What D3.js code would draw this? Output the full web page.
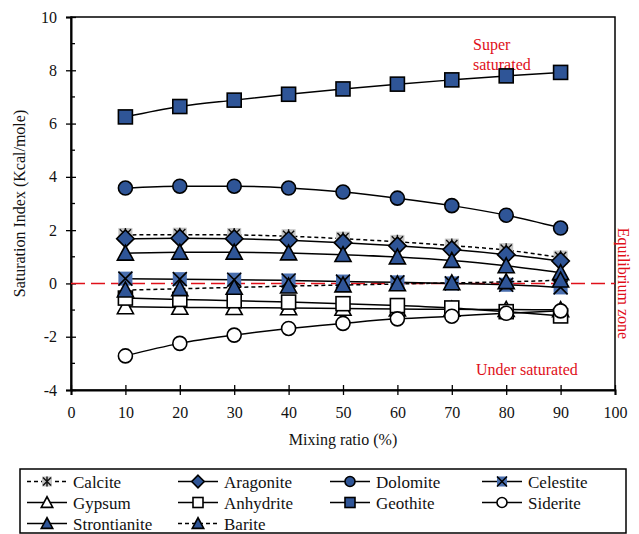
<!DOCTYPE html>
<html>
<head>
<meta charset="utf-8">
<script src="https://cdn.jsdelivr.net/npm/d3@7"></script>
<style>
  html, body { margin: 0; padding: 0; background: #fff; }
  svg, svg text { font-family: "Liberation Serif", "DejaVu Serif", "Times New Roman", serif !important; }
</style>
</head>
<body>
<svg id="chart" width="639" height="534"></svg>
<script>
// Mixing ratio (%) on the x axis
const mixing = [10, 20, 30, 40, 50, 60, 70, 80, 90];

// Saturation index of each mineral (Kcal/mole)
const calcite      = [1.82, 1.83, 1.82, 1.77, 1.68, 1.56, 1.42, 1.25, 0.97];
const aragonite    = [1.68, 1.70, 1.68, 1.62, 1.53, 1.41, 1.27, 1.08, 0.84];
const dolomite     = [3.58, 3.65, 3.65, 3.58, 3.43, 3.20, 2.92, 2.56, 2.08];
const celestite    = [0.18, 0.16, 0.14, 0.11, 0.07, 0.04, 0.00, -0.05, -0.15];
const gypsum       = [-0.88, -0.90, -0.91, -0.92, -0.94, -0.96, -0.97, -0.98, -0.99];
const anhydrite    = [-0.55, -0.60, -0.65, -0.70, -0.76, -0.83, -0.92, -1.06, -1.22];
const geothite     = [6.25, 6.64, 6.88, 7.10, 7.30, 7.48, 7.64, 7.79, 7.92];
const siderite     = [-2.72, -2.25, -1.94, -1.69, -1.50, -1.33, -1.23, -1.12, -1.03];
const strontianite = [1.13, 1.17, 1.17, 1.14, 1.08, 0.99, 0.86, 0.66, 0.40];
const barite       = [-0.25, -0.20, -0.15, -0.10, -0.06, -0.02, 0.02, 0.06, 0.12];

const names = ["Calcite", "Aragonite", "Dolomite", "Celestite", "Gypsum",
               "Anhydrite", "Geothite", "Siderite", "Strontianite", "Barite"];
const valuesList = [calcite, aragonite, dolomite, celestite, gypsum,
                    anhydrite, geothite, siderite, strontianite, barite];
const markers = ["star", "diamond", "circle", "xsquare", "triangle",
                 "square", "square", "circle", "triangle", "triangle"];
const filled  = [false, true, true, true, false, false, true, false, true, true];
const dashed  = [true, false, false, false, false, false, false, false, false, true];

const xTicks = [0, 10, 20, 30, 40, 50, 60, 70, 80, 90, 100];
const yTicks = [-4, -2, 0, 2, 4, 6, 8, 10];
const yMinor = [-3, -1, 1, 3, 5, 7, 9];

const BLUE = "#2f5597";
const RED = "#e0101a";
const FONT = "'Liberation Serif', 'DejaVu Serif', serif";

const svg = d3.select("#chart");
const plotL = 71, plotR = 615, plotT = 17, plotB = 390;

const x = d3.scaleLinear().domain([0, 100]).range([plotL, plotR]);
const y = d3.scaleLinear().domain([-4, 10]).range([plotB, plotT]);

// frame
svg.append("rect").attr("x", plotL).attr("y", plotT)
  .attr("width", plotR - plotL).attr("height", plotB - plotT)
  .attr("fill", "none").attr("stroke", "#000").attr("stroke-width", 1.5);

// x axis
const xAxis = svg.append("g").attr("transform", `translate(0,${plotB})`)
  .call(d3.axisBottom(x).tickValues(xTicks).tickFormat(d => String(d)).tickSize(5).tickPadding(12));
xAxis.attr("font-family", FONT);
xAxis.select(".domain").attr("stroke-width", 2);
xAxis.selectAll(".tick line").attr("y1", -5).attr("stroke-width", 1.3);
xAxis.selectAll(".tick text").attr("font-size", 16).attr("fill", "#111");

// y axis
const yAxis = svg.append("g").attr("transform", `translate(${plotL},0)`)
  .call(d3.axisLeft(y).tickValues(yTicks).tickFormat(d => String(d)).tickSize(5).tickPadding(9));
yAxis.attr("font-family", FONT);
yAxis.select(".domain").attr("stroke-width", 2);
yAxis.selectAll(".tick line").attr("x1", 5).attr("x2", -5).attr("stroke-width", 1.3);
yAxis.selectAll(".tick text").attr("font-size", 16).attr("fill", "#111");
svg.append("g").selectAll("line").data(yMinor).join("line")
  .attr("x1", plotL).attr("x2", plotL + 4)
  .attr("y1", d => y(d)).attr("y2", d => y(d))
  .attr("stroke", "#000").attr("stroke-width", 1.3);

// axis titles
svg.append("text").attr("x", x(50)).attr("y", 445).attr("text-anchor", "middle")
  .attr("font-family", FONT).attr("font-size", 16).attr("fill", "#111").text("Mixing ratio (%)");
svg.append("text").attr("transform", `translate(25,${y(3)}) rotate(-90)`)
  .attr("text-anchor", "middle").attr("font-family", FONT).attr("font-size", 16).attr("fill", "#111")
  .text("Saturation Index (Kcal/mole)");

// equilibrium line
svg.append("line").attr("x1", plotL).attr("x2", plotR)
  .attr("y1", y(0)).attr("y2", y(0))
  .attr("stroke", RED).attr("stroke-width", 1.5).attr("stroke-dasharray", "14,6");

// zone labels
const zone = svg.append("g").attr("font-family", FONT).attr("font-size", 16).attr("fill", RED);
zone.append("text").attr("x", 473).attr("y", 50).text("Super");
zone.append("text").attr("x", 473).attr("y", 70).text("saturated");
zone.append("text").attr("x", 476).attr("y", 375).text("Under saturated");
zone.append("text").attr("transform", `translate(618,${y(0)}) rotate(90)`)
  .attr("text-anchor", "middle").text("Equilibrium zone");

// marker drawing
function drawMarker(g, type, fill, cx, cy, s) {
  const sw = 1.6;
  const fc = fill ? BLUE : "#fff";
  if (type === "circle") {
    g.append("circle").attr("cx", cx).attr("cy", cy).attr("r", s)
      .attr("fill", fc).attr("stroke", "#000").attr("stroke-width", sw);
  } else if (type === "square") {
    g.append("rect").attr("x", cx - s).attr("y", cy - s).attr("width", 2 * s).attr("height", 2 * s)
      .attr("fill", fc).attr("stroke", "#000").attr("stroke-width", sw);
  } else if (type === "diamond") {
    const d = s * 1.25;
    g.append("path").attr("d", `M${cx},${cy - d}L${cx + d},${cy}L${cx},${cy + d}L${cx - d},${cy}Z`)
      .attr("fill", fc).attr("stroke", "#000").attr("stroke-width", sw);
  } else if (type === "triangle") {
    const h = s * 1.15;
    g.append("path").attr("d", `M${cx},${cy - h}L${cx + h},${cy + h * 0.85}L${cx - h},${cy + h * 0.85}Z`)
      .attr("fill", fc).attr("stroke", "#000").attr("stroke-width", sw);
  } else if (type === "xsquare") {
    g.append("rect").attr("x", cx - s).attr("y", cy - s).attr("width", 2 * s).attr("height", 2 * s)
      .attr("fill", "#4a6faf");
    g.append("path").attr("d", `M${cx - s},${cy - s}L${cx + s},${cy + s}M${cx + s},${cy - s}L${cx - s},${cy + s}`)
      .attr("stroke", "#000").attr("stroke-width", 1.6);
  } else if (type === "star") {
    g.append("rect").attr("x", cx - s).attr("y", cy - s).attr("width", 2 * s).attr("height", 2 * s)
      .attr("fill", "#c4c4c4");
    const k = s * 0.8;
    g.append("path").attr("d", `M${cx - k},${cy - k}L${cx + k},${cy + k}M${cx + k},${cy - k}L${cx - k},${cy + k}M${cx},${cy - s}L${cx},${cy + s}`)
      .attr("stroke", "#111").attr("stroke-width", 1.4);
  }
}

// series lines and markers
const line = d3.line().x((d, i) => x(mixing[i])).y(d => y(d)).curve(d3.curveMonotoneX);
const plot = svg.append("g");
valuesList.forEach((vals, k) => {
  const g = plot.append("g");
  g.append("path").attr("d", line(vals)).attr("fill", "none")
    .attr("stroke", "#000").attr("stroke-width", 1.5)
    .attr("stroke-dasharray", dashed[k] ? "4,3" : null);
  vals.forEach((v, i) => drawMarker(g, markers[k], filled[k], x(mixing[i]), y(v), 7));
});

// legend
const lg = svg.append("g");
lg.append("rect").attr("x", 20).attr("y", 469).attr("width", 606).attr("height", 64)
  .attr("fill", "#fff").attr("stroke", "#000").attr("stroke-width", 1.5);
const colX = [27, 178, 330, 482];
const rowY = [481.5, 502.5, 523.5];
names.forEach((name, k) => {
  const cx = colX[k % 4], cy = rowY[Math.floor(k / 4)];
  lg.append("line").attr("x1", cx).attr("x2", cx + 40).attr("y1", cy).attr("y2", cy)
    .attr("stroke", "#000").attr("stroke-width", 1.5)
    .attr("stroke-dasharray", dashed[k] ? "4,3" : null);
  drawMarker(lg, markers[k], filled[k], cx + 20, cy, 5);
  lg.append("text").attr("x", cx + 46).attr("y", cy + 6).attr("font-family", FONT).attr("font-size", 17)
    .attr("fill", "#111").text(name);
});
</script>
</body>
</html>
